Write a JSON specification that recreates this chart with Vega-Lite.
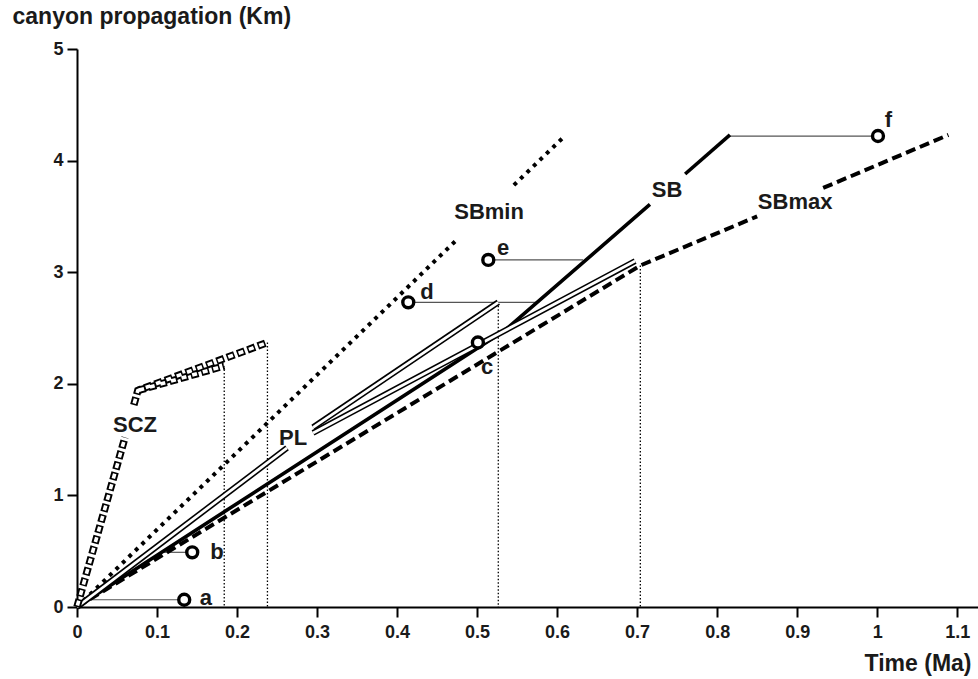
{
  "$schema": "https://vega.github.io/schema/vega-lite/v6.json",
  "width": 901,
  "height": 558,
  "autosize": {"type": "none"},
  "padding": {"left": 77, "top": 49, "right": 0, "bottom": 72},
  "background": "white",
  "config": {
    "view": {"stroke": null},
    "font": "Liberation Sans",
    "axis": {
      "grid": false,
      "domainColor": "#000",
      "domainWidth": 2,
      "tickColor": "#000",
      "tickWidth": 2,
      "tickSize": 10,
      "labelFont": "Liberation Sans",
      "labelFontWeight": "bold",
      "labelFontSize": 18,
      "labelColor": "#1a1a1a",
      "labelFlush": false,
      "labelOverlap": false,
      "titleFont": "Liberation Sans",
      "titleFontWeight": "bold",
      "titleFontSize": 23,
      "titleColor": "#1a1a1a"
    }
  },
  "datasets": {
    "lines": [
      {"line": "SBmin", "seg": "SBmin1", "i": 0, "x": 0, "y": 0},
      {"line": "SBmin", "seg": "SBmin1", "i": 1, "x": 0.476, "y": 3.3},
      {"line": "SBmin", "seg": "SBmin2", "i": 0, "x": 0.546, "y": 3.78},
      {"line": "SBmin", "seg": "SBmin2", "i": 1, "x": 0.608, "y": 4.21},
      {"line": "SB", "seg": "SB1", "i": 0, "x": 0, "y": 0},
      {"line": "SB", "seg": "SB1", "i": 1, "x": 0.535, "y": 2.48},
      {"line": "SB", "seg": "SB1", "i": 2, "x": 0.716, "y": 3.607},
      {"line": "SB", "seg": "SB2", "i": 0, "x": 0.76, "y": 3.88},
      {"line": "SB", "seg": "SB2", "i": 1, "x": 0.816, "y": 4.23},
      {"line": "SBmax", "seg": "SBmax1", "i": 0, "x": 0, "y": 0},
      {"line": "SBmax", "seg": "SBmax1", "i": 1, "x": 0.704, "y": 3.06},
      {"line": "SBmax", "seg": "SBmax1", "i": 2, "x": 0.85, "y": 3.5},
      {"line": "SBmax", "seg": "SBmax2", "i": 0, "x": 0.9325, "y": 3.755},
      {"line": "SBmax", "seg": "SBmax2", "i": 1, "x": 1.089, "y": 4.23},
      {"line": "PL", "seg": "PLa", "i": 0, "x": 0, "y": 0},
      {"line": "PL", "seg": "PLa", "i": 1, "x": 0.2625, "y": 1.425},
      {"line": "PL", "seg": "PLu", "i": 0, "x": 0.295, "y": 1.61},
      {"line": "PL", "seg": "PLu", "i": 1, "x": 0.5265, "y": 2.73},
      {"line": "PL", "seg": "PLl", "i": 0, "x": 0.295, "y": 1.56},
      {"line": "PL", "seg": "PLl", "i": 1, "x": 0.6975, "y": 3.1},
      {"line": "SCZ", "seg": "SCZ1", "i": 0, "x": 0, "y": 0},
      {"line": "SCZ", "seg": "SCZ1", "i": 1, "x": 0.06, "y": 1.52},
      {"line": "SCZ", "seg": "SCZ2", "i": 0, "x": 0.071, "y": 1.81},
      {"line": "SCZ", "seg": "SCZ2", "i": 1, "x": 0.076, "y": 1.94},
      {"line": "SCZ", "seg": "SCZ2", "i": 2, "x": 0.238, "y": 2.37},
      {"line": "SCZ", "seg": "SCZ3", "i": 0, "x": 0.076, "y": 1.94},
      {"line": "SCZ", "seg": "SCZ3", "i": 1, "x": 0.184, "y": 2.16}
    ],
    "verticals": [
      {"x": 0.184, "y": 2.16},
      {"x": 0.238, "y": 2.37},
      {"x": 0.5265, "y": 2.73},
      {"x": 0.704, "y": 3.06}
    ],
    "connectors": [
      {"x": 0.019, "x2": 0.134, "y": 0.065},
      {"x": 0.107, "x2": 0.144, "y": 0.49},
      {"x": 0.414, "x2": 0.5775, "y": 2.73},
      {"x": 0.514, "x2": 0.6325, "y": 3.11},
      {"x": 0.816, "x2": 1.001, "y": 4.22}
    ],
    "samples": [
      {"name": "a", "x": 0.134, "y": 0.065, "lx": 0.161, "ly": 0.08},
      {"name": "b", "x": 0.144, "y": 0.49, "lx": 0.175, "ly": 0.49},
      {"name": "c", "x": 0.501, "y": 2.37, "lx": 0.5125, "ly": 2.15},
      {"name": "d", "x": 0.414, "y": 2.73, "lx": 0.4375, "ly": 2.82},
      {"name": "e", "x": 0.514, "y": 3.11, "lx": 0.5325, "ly": 3.22},
      {"name": "f", "x": 1.001, "y": 4.22, "lx": 1.014, "ly": 4.36}
    ],
    "lineLabels": [
      {"name": "SCZ", "x": 0.0725, "y": 1.63},
      {"name": "PL", "x": 0.27, "y": 1.51},
      {"name": "SBmin", "x": 0.515, "y": 3.54},
      {"name": "SB", "x": 0.7375, "y": 3.74},
      {"name": "SBmax", "x": 0.8975, "y": 3.63}
    ]
  },
  "encoding": {
    "x": {
      "field": "x", "type": "quantitative",
      "scale": {"domain": [0, 1.126], "nice": false, "zero": false},
      "axis": {
        "values": [0, 0.1, 0.2, 0.3, 0.4, 0.5, 0.6, 0.7, 0.8, 0.9, 1, 1.1],
        "format": "~g",
        "labelPadding": 6,
        "title": "Time (Ma)",
        "titleX": 894,
        "titleY": 63,
        "titleAlign": "right",
        "titleAnchor": "end",
        "titleBaseline": "alphabetic"
      }
    },
    "y": {
      "field": "y", "type": "quantitative",
      "scale": {"domain": [0, 5], "nice": false, "zero": false},
      "axis": {
        "values": [0, 1, 2, 3, 4, 5],
        "format": "~g",
        "labelPadding": 4,
        "title": "canyon propagation (Km)",
        "titleAngle": 0,
        "titleX": -65,
        "titleY": -26,
        "titleAlign": "left",
        "titleAnchor": "start",
        "titleBaseline": "alphabetic"
      }
    }
  },
  "layer": [
    {
      "data": {"name": "verticals"},
      "mark": {"type": "rule", "color": "#000", "strokeWidth": 1.3, "strokeDash": [1.5, 2]},
      "encoding": {"y2": {"datum": 0}}
    },
    {
      "data": {"name": "connectors"},
      "mark": {"type": "rule", "color": "#555", "strokeWidth": 1.2},
      "encoding": {"x2": {"field": "x2"}}
    },
    {
      "data": {"name": "lines"},
      "transform": [{"filter": "datum.line === 'SBmin'"}],
      "mark": {"type": "line", "color": "#000", "strokeWidth": 4, "strokeDash": [3.8, 5.2]},
      "encoding": {"detail": {"field": "seg"}, "order": {"field": "i"}}
    },
    {
      "data": {"name": "lines"},
      "transform": [{"filter": "datum.line === 'SBmax'"}],
      "mark": {"type": "line", "color": "#000", "strokeWidth": 4, "strokeDash": [10, 5]},
      "encoding": {"detail": {"field": "seg"}, "order": {"field": "i"}}
    },
    {
      "data": {"name": "lines"},
      "transform": [{"filter": "datum.line === 'SB'"}],
      "mark": {"type": "line", "color": "#000", "strokeWidth": 3.6},
      "encoding": {"detail": {"field": "seg"}, "order": {"field": "i"}}
    },
    {
      "data": {"name": "lines"},
      "transform": [{"filter": "datum.line === 'PL'"}],
      "mark": {"type": "line", "color": "#000", "strokeWidth": 6, "strokeCap": "butt"},
      "encoding": {"detail": {"field": "seg"}, "order": {"field": "i"}}
    },
    {
      "data": {"name": "lines"},
      "transform": [{"filter": "datum.line === 'PL'"}],
      "mark": {"type": "line", "color": "#fff", "strokeWidth": 2.8, "strokeCap": "butt"},
      "encoding": {"detail": {"field": "seg"}, "order": {"field": "i"}}
    },
    {
      "data": {"name": "lines"},
      "transform": [{"filter": "datum.line === 'SCZ'"}],
      "mark": {"type": "line", "color": "#000", "strokeWidth": 7.5, "strokeDash": [8, 3]},
      "encoding": {"detail": {"field": "seg"}, "order": {"field": "i"}}
    },
    {
      "data": {"name": "lines"},
      "transform": [{"filter": "datum.line === 'SCZ'"}],
      "mark": {"type": "line", "color": "#fff", "strokeWidth": 3.6, "strokeDash": [5, 6], "strokeDashOffset": -1.5},
      "encoding": {"detail": {"field": "seg"}, "order": {"field": "i"}}
    },
    {
      "data": {"name": "samples"},
      "mark": {"type": "point", "shape": "circle", "size": 120, "filled": false, "fill": "#fff", "fillOpacity": 1, "stroke": "#000", "strokeWidth": 3.4, "opacity": 1}
    },
    {
      "data": {"name": "samples"},
      "mark": {"type": "text", "font": "Liberation Sans", "fontWeight": "bold", "fontSize": 22, "color": "#1a1a1a", "align": "center", "baseline": "middle"},
      "encoding": {
        "x": {"field": "lx", "type": "quantitative"},
        "y": {"field": "ly", "type": "quantitative"},
        "text": {"field": "name"}
      }
    },
    {
      "data": {"name": "lineLabels"},
      "mark": {"type": "text", "font": "Liberation Sans", "fontWeight": "bold", "fontSize": 22, "color": "#1a1a1a", "align": "center", "baseline": "middle"},
      "encoding": {"text": {"field": "name"}}
    }
  ]
}
